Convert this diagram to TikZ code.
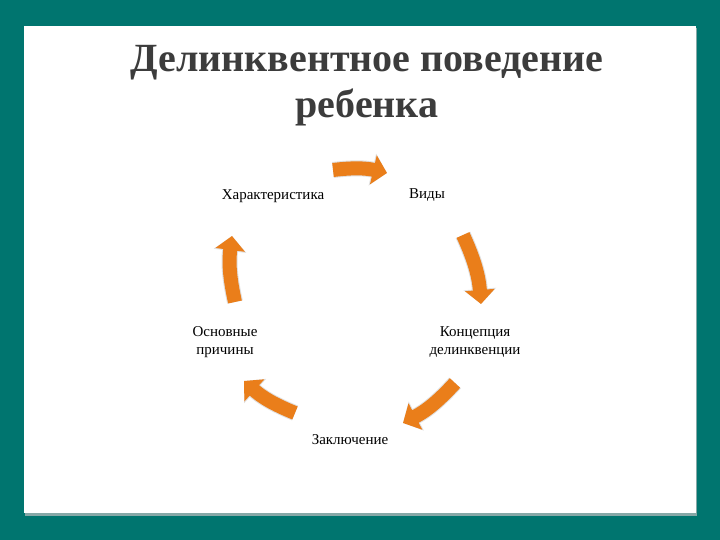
\documentclass[tikz,border=0pt]{standalone}
\usepackage{fontspec}
\setmainfont{Liberation Serif}
\usetikzlibrary{arrows.meta}
\definecolor{teal0}{RGB}{0,117,111}
\definecolor{arroworange}{RGB}{234,126,26}
\definecolor{titlegray}{RGB}{60,60,60}
\tikzset{
  lbl/.style={font=\fontsize{15}{18}\selectfont, text=black, align=center, inner sep=0pt},
  cyclearrow/.style={draw=arroworange, line width=14pt, line cap=butt,
    -{Triangle[width=29pt,length=14pt]}, bend left=10},
  arrowshade/.style={draw=black!12, line width=16pt, line cap=butt,
    -{Triangle[width=32pt,length=15pt]}, bend left=10}
}
\begin{document}
\begin{tikzpicture}[x=1pt,y=1pt]
\useasboundingbox (0,0) rectangle (720,540);
\fill[teal0] (0,0) rectangle (720,540);
% card shadow and card
\fill[black!25, opacity=0.7] (25,24) rectangle (697,512);
\fill[white] (24,27) rectangle (696,514);
% title
\node[font=\fontsize{40}{46}\selectfont\bfseries, text=titlegray, align=center] (title) at (367,454)
  {Делинквентное поведение\\ребенка};
% labels
\node[lbl] (char) at (273,344) {Характеристика};
\node[lbl] (vidy) at (427,345) {Виды};
\node[lbl] (konc) at (475,198) {Концепция\\делинквенции};
\node[lbl] (zakl) at (350,100) {Заключение};
\node[lbl] (osn) at (225,198) {Основные\\причины};
% arrow end points
\coordinate (a1s) at (333,370); \coordinate (a1e) at (387,367);
\coordinate (a2s) at (463,305); \coordinate (a2e) at (481,236);
\coordinate (a3s) at (455,157); \coordinate (a3e) at (403,117);
\coordinate (a4s) at (295,127); \coordinate (a4e) at (244,159);
\coordinate (a5s) at (235,238); \coordinate (a5e) at (232,304);
% arrows
\foreach \s/\e in {a1s/a1e,a2s/a2e,a3s/a3e,a4s/a4e,a5s/a5e}{
  \draw[arrowshade] (\s) to (\e);
  \draw[cyclearrow] (\s) to (\e);
}
\end{tikzpicture}
\end{document}
